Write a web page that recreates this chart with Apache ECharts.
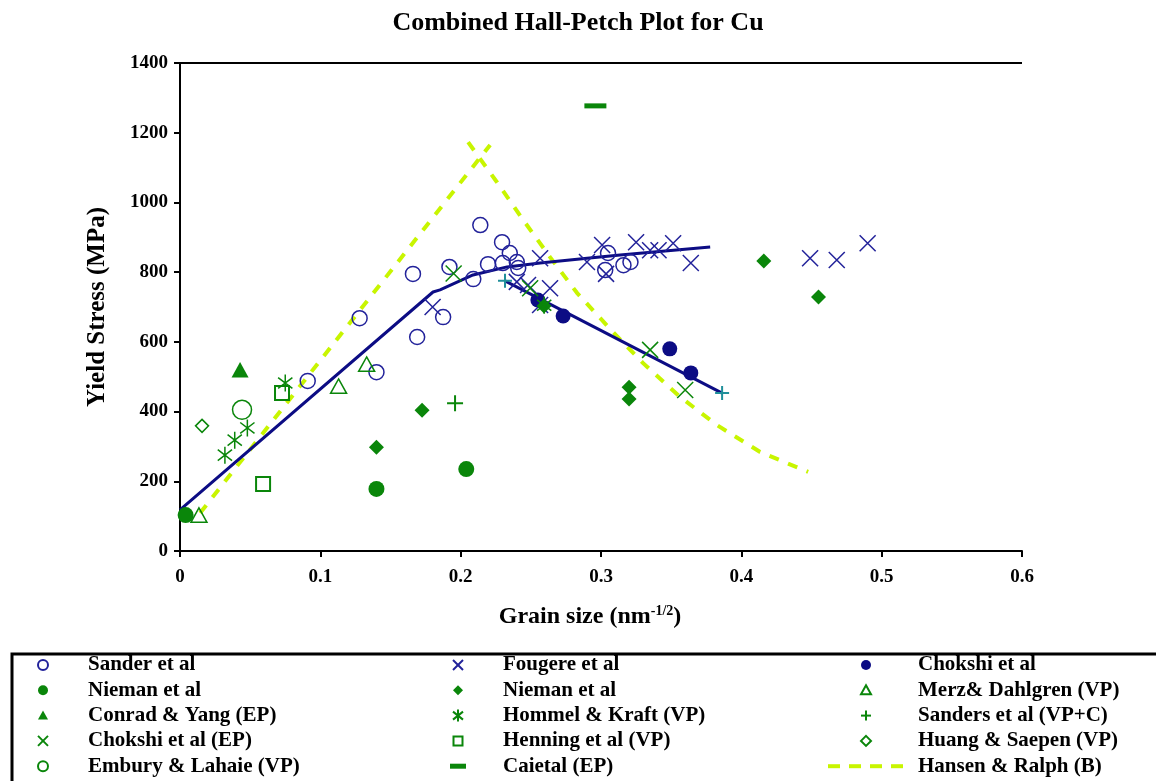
<!DOCTYPE html>
<html><head><meta charset="utf-8">
<script src="https://cdn.jsdelivr.net/npm/echarts@6/dist/echarts.min.js"></script>
<style>html,body{margin:0;padding:0;background:#fff}#c{width:1156px;height:781px}</style>
</head><body><div id="c"></div>
<script>
// ---- data (grain size nm^-1/2, yield stress MPa) ----
const sander = [[0.091,488],[0.128,668],[0.140,513],[0.166,795],[0.169,614],[0.1875,671],[0.192,815],[0.209,780],[0.214,935],[0.2195,823],[0.2295,886],[0.230,826],[0.235,855],[0.240,829],[0.241,812],[0.303,806],[0.305,855],[0.316,820],[0.321,829]];
const fougere = [[0.180,700],[0.240,772],[0.248,763],[0.2637,754],[0.2566,706],[0.2566,840],[0.290,829],[0.3008,878],[0.3036,795],[0.325,886],[0.335,863],[0.341,863],[0.3514,883],[0.364,826],[0.449,840],[0.468,835],[0.490,883]];
const chokshi = [[0.255,720],[0.273,674],[0.349,580],[0.364,511]];
const niemanCircle = [[0.004,103],[0.140,178],[0.204,235]];
const niemanDiamond = [[0.140,298],[0.1725,404],[0.2594,703],[0.320,470],[0.320,436],[0.416,832],[0.455,729]];
const merz = [[0.0135,103],[0.113,473],[0.133,536]];
const conrad = [[0.0428,520]];
const hommel = [[0.032,275],[0.039,318],[0.048,353],[0.075,482],[0.2595,705]];
const sanders = [[0.196,424]];
const chokshiEP = [[0.195,796],[0.2495,754],[0.335,577],[0.360,462]];
const huang = [[0.0157,359]];
const henning = [[0.0727,453],[0.0592,192]];
const embury = [[0.0442,405]];
const caietal = [[0.296,1277]];
const hansenRise = [[0.0143,109],[0.221,1165]];
const hansenFall = [[0.2053,1173],[0.2259,1058],[0.2445,950],[0.2637,843],[0.283,740],[0.3086,628],[0.330,539],[0.3564,442],[0.3827,361],[0.4134,284],[0.4476,227]];
const sanderFit = [[0,118],[0.1803,743],[0.1853,749],[0.2088,792],[0.2331,815],[0.2566,826],[0.2901,840],[0.3136,849],[0.3778,872]];
const chokshiFit = [[0.2316,775],[0.3863,453]];

const titleText = 'Combined Hall-Petch Plot for Cu';
const xName = 'Grain size (nm{sup|-1/2})';
const yName = 'Yield Stress (MPa)';
const legendCol1 = ['Sander et al','Nieman et al','Conrad & Yang (EP)','Chokshi et al (EP)','Embury & Lahaie (VP)'];
const legendCol2 = ['Fougere et al','Nieman et al ','Hommel & Kraft (VP)','Henning et al (VP)','Caietal (EP)'];
const legendCol3 = ['Chokshi et al','Merz& Dahlgren (VP)','Sanders et al (VP+C)','Huang & Saepen (VP)','Hansen & Ralph (B)'];

// ---- styles ----
const BLUE = '#22229a', NAVY = '#0c0c84', GREEN = '#0a860a', LIME = '#c8f500', TEAL = '#208f9a';
const FONT = '"Liberation Serif", "Times New Roman", serif';
const P = {
  circle: 'circle',
  x: 'path://M0,0L10,10M10,0L0,10',
  plus: 'path://M5,0L5,10M0,5L10,5',
  star: 'path://M5,0L5,10M0.8,1.8L9.2,8.2M9.2,1.8L0.8,8.2',
  tri: 'path://M5,0L10,9L0,9Z',
  dia: 'path://M5,0L10,5L5,10L0,5Z',
  sq: 'path://M0,0L10,0L10,10L0,10Z',
  dash: 'path://M0,0L10,0L10,2L0,2Z'
};
const specs = {};
function openS(name, data, key, color, size, bw) {
  specs[name] = {key, color, filled:false};
  return {type:'scatter', name, data, symbol:P[key], symbolSize:size, symbolKeepAspect:true,
    itemStyle:{color:'rgba(0,0,0,0)', borderColor:color, borderWidth:bw||1.5, opacity:1}, z:3};
}
function fillS(name, data, key, color, size) {
  specs[name] = {key, color, filled:true};
  return {type:'scatter', name, data, symbol:P[key], symbolSize:size, symbolKeepAspect:true,
    itemStyle:{color, borderWidth:0, opacity:1}, z:3};
}
specs['Caietal (EP)'] = {key:'dash', color:GREEN, filled:true};
specs['Hansen & Ralph (B)'] = {key:'dashline', color:LIME, filled:true};
const series = [
  {type:'line', name:'Hansen & Ralph (B)', data:hansenRise, symbol:'none', lineStyle:{color:LIME,width:4,type:[10,10]}, itemStyle:{color:LIME}, z:1},
  {type:'line', name:'Hansen & Ralph (B)', data:hansenFall, symbol:'none', lineStyle:{color:LIME,width:4,type:[10,10]}, itemStyle:{color:LIME}, z:1},
  {type:'line', name:'Sander fit', data:sanderFit, symbol:'none', lineStyle:{color:NAVY,width:3}, z:2},
  {type:'line', name:'Chokshi fit', data:chokshiFit, symbol:P.plus, symbolSize:14, showAllSymbol:true,
    lineStyle:{color:NAVY,width:3}, itemStyle:{color:'rgba(0,0,0,0)', borderColor:TEAL, borderWidth:2, opacity:1}, z:2},
  openS('Sander et al', sander, 'circle', BLUE, 15),
  openS('Fougere et al', fougere, 'x', BLUE, 16),
  fillS('Chokshi et al', chokshi, 'circle', NAVY, 15),
  fillS('Nieman et al', niemanCircle, 'circle', GREEN, 16),
  fillS('Nieman et al ', niemanDiamond, 'dia', GREEN, 15),
  openS('Merz& Dahlgren (VP)', merz, 'tri', GREEN, 16),
  fillS('Conrad & Yang (EP)', conrad, 'tri', GREEN, 17),
  openS('Hommel & Kraft (VP)', hommel, 'star', GREEN, 17),
  openS('Sanders et al (VP+C)', sanders, 'plus', GREEN, 16, 2),
  openS('Chokshi et al (EP)', chokshiEP, 'x', GREEN, 16),
  openS('Huang & Saepen (VP)', huang, 'dia', GREEN, 13),
  openS('Henning et al (VP)', henning, 'sq', GREEN, 14, 2),
  openS('Embury & Lahaie (VP)', embury, 'circle', GREEN, 19),
  {type:'scatter', name:'Caietal (EP)', data:caietal, symbol:P.dash, symbolSize:[22,5], symbolKeepAspect:false, itemStyle:{color:GREEN, opacity:1}, z:3}
];

// ---- legend (drawn as graphic elements from the names above) ----
const legendGraphics = [];
const legendCols = [{names:legendCol1, mx:43, tx:88}, {names:legendCol2, mx:458, tx:503}, {names:legendCol3, mx:866, tx:918}];
function ln(x1, y1, x2, y2, c) {
  return {type:'line', shape:{x1, y1, x2, y2}, style:{stroke:c, lineWidth:2}, silent:true};
}
function iconFor(spec, cx, cy) {
  const c = spec.color, r = 5;
  const st = spec.filled ? {fill:c} : {fill:'none', stroke:c, lineWidth:2};
  switch (spec.key) {
    case 'circle': return [{type:'circle', shape:{cx, cy, r}, style:st, silent:true}];
    case 'x': return [ln(cx-r, cy-r, cx+r, cy+r, c), ln(cx+r, cy-r, cx-r, cy+r, c)];
    case 'plus': return [ln(cx, cy-r, cx, cy+r, c), ln(cx-r, cy, cx+r, cy, c)];
    case 'star': return [ln(cx, cy-r-1, cx, cy+r+1, c), ln(cx-r, cy-r+1, cx+r, cy+r-1, c), ln(cx+r, cy-r+1, cx-r, cy+r-1, c)];
    case 'tri': return [{type:'polygon', shape:{points:[[cx, cy-r], [cx+r, cy+r-1], [cx-r, cy+r-1]]}, style:st, silent:true}];
    case 'dia': return [{type:'polygon', shape:{points:[[cx, cy-r], [cx+r, cy], [cx, cy+r], [cx-r, cy]]}, style:st, silent:true}];
    case 'sq': return [{type:'rect', shape:{x:cx-4.5, y:cy-4.5, width:9, height:9}, style:st, silent:true}];
    case 'dash': return [{type:'rect', shape:{x:cx-8, y:cy-2.5, width:16, height:5}, style:{fill:c}, silent:true}];
    case 'dashline': return [0,1,2,3].map(k => ({type:'rect', shape:{x:cx-38+k*21, y:cy-2, width:12, height:4}, style:{fill:c}, silent:true}));
  }
  return [];
}
legendCols.forEach(col => {
  col.names.forEach((n, i) => {
    const cy = 665 + i * 25.3;
    iconFor(specs[n], col.mx, cy).forEach(g => legendGraphics.push(g));
    legendGraphics.push({type:'text', x:col.tx, y:cy, silent:true,
      style:{text:n.trim(), fontFamily:FONT, fontWeight:'bold', fontSize:21, fill:'#000', verticalAlign:'middle', align:'left'}});
  });
});

const option = {
  animation:false,
  backgroundColor:'#fff',
  title:{text:titleText, left:'center', top:5, textStyle:{fontFamily:FONT, fontWeight:'bold', fontSize:26, color:'#000'}},
  grid:{left:180, right:134, top:63, bottom:230, show:false},
  xAxis:{type:'value', min:0, max:0.6, interval:0.1,
    name:xName, nameLocation:'middle', nameGap:53,
    nameTextStyle:{fontFamily:FONT, fontWeight:'bold', fontSize:24, color:'#000', padding:[0,22,0,0],
      rich:{sup:{fontFamily:FONT, fontWeight:'bold', fontSize:14, color:'#000', verticalAlign:'top', padding:[0,0,12,0]}}},
    axisLine:{lineStyle:{color:'#000', width:2}}, axisTick:{length:6, lineStyle:{color:'#000', width:2}},
    axisLabel:{fontFamily:FONT, fontWeight:'bold', fontSize:19, color:'#000', margin:17},
    splitLine:{show:false}},
  yAxis:{type:'value', min:0, max:1400, interval:200,
    name:yName, nameLocation:'middle', nameGap:70, nameRotate:90,
    nameTextStyle:{fontFamily:FONT, fontWeight:'bold', fontSize:25, color:'#000'},
    axisLine:{show:true, lineStyle:{color:'#000', width:2}}, axisTick:{show:true, length:6, lineStyle:{color:'#000', width:2}},
    axisLabel:{fontFamily:FONT, fontWeight:'bold', fontSize:19, color:'#000', margin:12, formatter: v => String(v)},
    splitLine:{show:false}},
  graphic:[
    {type:'rect', shape:{x:12, y:654, width:1160, height:140}, style:{fill:'none', stroke:'#000', lineWidth:3}, silent:true},
    {type:'line', shape:{x1:180, y1:63, x2:1022, y2:63}, style:{stroke:'#000', lineWidth:2}, silent:true}
  ].concat(legendGraphics),
  series
};
const chart = echarts.init(document.getElementById('c'));
chart.setOption(option);
</script></body></html>
